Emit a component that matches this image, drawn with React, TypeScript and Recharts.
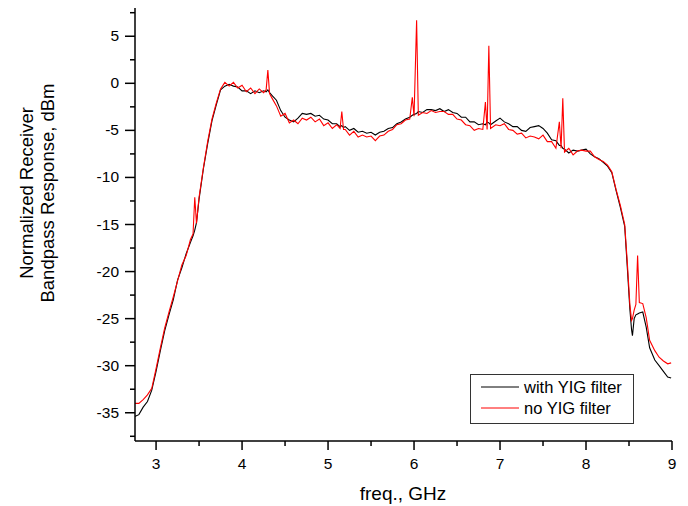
import React from 'react';
import { LineChart, Line, XAxis, YAxis } from 'recharts';

// frequency grid, GHz (extra points around the red spurs)
const freqs = [
  2.75, 2.8, 2.85, 2.9, 2.95, 3.0, 3.05, 3.1, 3.15, 3.2,
  3.25, 3.3, 3.35, 3.4, 3.43, 3.45, 3.47, 3.5, 3.55, 3.6,
  3.65, 3.7, 3.75, 3.8, 3.85, 3.9, 3.95, 4.0, 4.05, 4.1,
  4.15, 4.2, 4.25, 4.28, 4.3, 4.32, 4.35, 4.4, 4.45, 4.5,
  4.55, 4.6, 4.65, 4.7, 4.75, 4.8, 4.85, 4.9, 4.95, 5.0,
  5.05, 5.1, 5.14, 5.16, 5.18, 5.2, 5.25, 5.3, 5.35, 5.4,
  5.45, 5.5, 5.55, 5.6, 5.65, 5.7, 5.75, 5.8, 5.85, 5.9,
  5.95, 5.98, 6.0, 6.03, 6.05, 6.1, 6.15, 6.2, 6.25, 6.3,
  6.35, 6.4, 6.45, 6.5, 6.55, 6.6, 6.65, 6.7, 6.75, 6.8,
  6.83, 6.85, 6.87, 6.89, 6.95, 7.0, 7.05, 7.1, 7.15, 7.2,
  7.25, 7.3, 7.35, 7.4, 7.45, 7.5, 7.55, 7.6, 7.65, 7.69,
  7.71, 7.73, 7.75, 7.8, 7.85, 7.9, 7.95, 8.0, 8.05, 8.1,
  8.15, 8.2, 8.25, 8.3, 8.35, 8.4, 8.45, 8.48, 8.51, 8.53,
  8.54, 8.56, 8.58, 8.6, 8.62, 8.66, 8.7, 8.74, 8.8, 8.85,
  8.9, 8.95, 8.99,
];

// dBm, with YIG filter (black)
const withYig = [
  -35.4, -35.2, -34.4, -33.8, -32.6, -30.6, -28.4, -26.3, -24.6, -23.0,
  -20.9, -19.6, -18.1, -16.9, -16.2, -15.6, -14.8, -12.3, -9.1, -6.4,
  -4.0, -2.3, -0.7, -0.3, -0.1, -0.3, -0.4, -0.8, -0.8, -1.1,
  -0.8, -1.0, -0.8, -0.9, -0.7, -1.0, -1.3, -1.8, -2.9, -3.6,
  -3.9, -4.1, -3.7, -3.2, -3.3, -3.2, -3.5, -3.4, -3.8, -3.9,
  -4.3, -4.3, -4.6, -4.5, -4.7, -4.6, -5.0, -4.8, -5.2, -5.1,
  -5.3, -5.2, -5.5, -5.2, -5.1, -4.8, -4.7, -4.3, -4.1, -3.8,
  -3.6, -3.4, -3.3, -3.2, -3.0, -3.1, -2.8, -2.8, -2.9, -2.7,
  -3.0, -2.8, -3.1, -3.2, -3.6, -3.6, -4.1, -4.1, -4.4, -4.3,
  -4.4, -4.1, -4.2, -4.4, -4.0, -3.7, -4.1, -4.3, -4.6, -4.6,
  -5.0, -5.1, -4.7, -4.6, -4.5, -4.8, -5.3, -6.0, -6.1, -6.6,
  -6.6, -6.9, -7.0, -7.4, -7.1, -7.2, -7.1, -7.0, -7.5, -7.8,
  -8.0, -8.4, -8.8, -9.5, -11.4, -13.2, -15.2, -19.5, -24.0, -26.2,
  -26.8, -25.0, -24.6, -24.5, -24.4, -24.3, -25.9, -28.1, -29.4, -30.0,
  -30.6, -31.2, -31.3,
];

// dBm, no YIG filter (red)
const noYig = [
  -34.0, -34.0, -33.6, -33.1, -32.4, -30.3, -28.1, -26.0, -24.3, -22.7,
  -21.0, -19.3, -18.3, -16.6, -16.0, -12.1, -14.9, -12.1, -9.0, -6.2,
  -3.8, -2.1, -0.6, 0.1, -0.3, 0.1, -0.5, -0.2, -0.9, -0.5,
  -1.1, -0.6, -1.0, -0.7, 1.4, -1.1, -1.6, -2.4, -3.5, -3.2,
  -4.2, -3.9, -4.3, -3.7, -3.9, -3.6, -4.1, -3.8, -4.5, -4.2,
  -4.8, -4.4, -4.8, -3.0, -4.9, -4.9, -5.5, -5.1, -5.7, -5.5,
  -5.7, -5.6, -6.1, -5.6, -5.5, -5.1, -4.9, -4.4, -4.3, -3.9,
  -3.8, -1.5, -3.5, 6.7, -3.4, -3.1, -3.2, -2.9, -3.1, -3.0,
  -3.0, -3.3, -3.3, -3.8, -3.9, -4.4, -4.5, -5.0, -4.8, -4.9,
  -2.0, -4.9, 4.0, -4.8, -4.4, -4.5, -4.3, -4.9, -5.0, -5.4,
  -5.3, -5.8, -5.6, -5.7, -5.9, -5.5, -6.2, -6.2, -6.9, -4.1,
  -6.9, -1.6, -7.3, -6.9, -7.6, -7.2, -7.1, -7.2, -7.2, -7.8,
  -8.1, -8.3, -8.7, -9.4, -11.3, -13.0, -15.0, -19.0, -23.5, -25.2,
  -25.0, -24.1, -23.5, -18.3, -23.3, -23.4, -24.9, -27.3, -28.4, -29.1,
  -29.5, -29.8, -29.7,
];

const xTicks = [3, 3.5, 4, 4.5, 5, 5.5, 6, 6.5, 7, 7.5, 8, 8.5, 9];
const yTicks = [-37.5, -35, -32.5, -30, -27.5, -25, -22.5, -20, -17.5, -15, -12.5, -10, -7.5, -5, -2.5, 0, 2.5, 5, 7.5];

const data = freqs.map((f, i) => ({ f, withYig: withYig[i], noYig: noYig[i] }));

const FONT = '"Liberation Sans", Arial, sans-serif';

const XTick = (props: any) => {
  const { x, y, payload } = props;
  const major = Number.isInteger(payload.value);
  const top = y - 9;
  return (
    <g>
      <line x1={x} x2={x} y1={top} y2={top + (major ? 9 : 5)} stroke="#000" strokeWidth={1.5} />
      {major && (
        <text x={x} y={top + 28} textAnchor="middle" fontSize={15.5} fontFamily={FONT} fill="#000">
          {payload.value}
        </text>
      )}
    </g>
  );
};

const YTick = (props: any) => {
  const { x, y, payload } = props;
  const major = payload.value % 5 === 0;
  const axisX = x + 10;
  return (
    <g>
      <line x1={axisX - (major ? 10 : 5)} x2={axisX} y1={y} y2={y} stroke="#000" strokeWidth={1.5} />
      {major && (
        <text x={axisX - 16} y={y + 5} textAnchor="end" fontSize={15.5} fontFamily={FONT} fill="#000">
          {payload.value}
        </text>
      )}
    </g>
  );
};

export default function App() {
  return (
    <div style={{ position: 'absolute', left: 0, top: 0, width: 688, height: 506, background: '#fff' }}>
      <LineChart width={688} height={506} data={data} margin={{ top: 8, right: 16, left: 0, bottom: 0 }}>
        <XAxis
          dataKey="f"
          type="number"
          domain={[2.755, 9]}
          ticks={xTicks}
          interval={0}
          height={65}
          tickSize={9}
          tickMargin={0}
          tickLine={false}
          tick={<XTick />}
          axisLine={{ stroke: '#000', strokeWidth: 1.5 }}
          allowDataOverflow
        />
        <YAxis
          type="number"
          domain={[-38, 8]}
          ticks={yTicks}
          interval={0}
          width={135}
          tickSize={10}
          tickMargin={0}
          tickLine={false}
          tick={<YTick />}
          axisLine={{ stroke: '#000', strokeWidth: 1.5 }}
          allowDataOverflow
        />
        <Line type="linear" dataKey="withYig" stroke="#000" strokeWidth={1.1} dot={false} isAnimationActive={false} />
        <Line type="linear" dataKey="noYig" stroke="#ff0000" strokeWidth={1.1} dot={false} isAnimationActive={false} />
      </LineChart>
      <svg width={688} height={506} style={{ position: 'absolute', left: 0, top: 0, pointerEvents: 'none' }}>
        <text x={403} y={500} textAnchor="middle" fontSize={19} fontFamily={FONT} fill="#000">
          freq., GHz
        </text>
        <g transform="translate(33,193) rotate(-90)">
          <text x={0} y={0} textAnchor="middle" fontSize={18.5} fontFamily={FONT} fill="#000">
            Normalized Receiver
          </text>
          <text x={0} y={21} textAnchor="middle" fontSize={18.5} fontFamily={FONT} fill="#000">
            Bandpass Response, dBm
          </text>
        </g>
        <rect x={470.5} y={374.5} width={163} height={49} fill="#fff" stroke="#333" strokeWidth={1} />
        <line x1={481} x2={519} y1={387} y2={387} stroke="#000" strokeWidth={1} />
        <text x={524} y={393} fontSize={16.5} fontFamily={FONT} fill="#000">with YIG filter</text>
        <line x1={481} x2={519} y1={408} y2={408} stroke="#ff0000" strokeWidth={1} />
        <text x={524} y={414} fontSize={16.5} fontFamily={FONT} fill="#000">no YIG filter</text>
      </svg>
    </div>
  );
}
